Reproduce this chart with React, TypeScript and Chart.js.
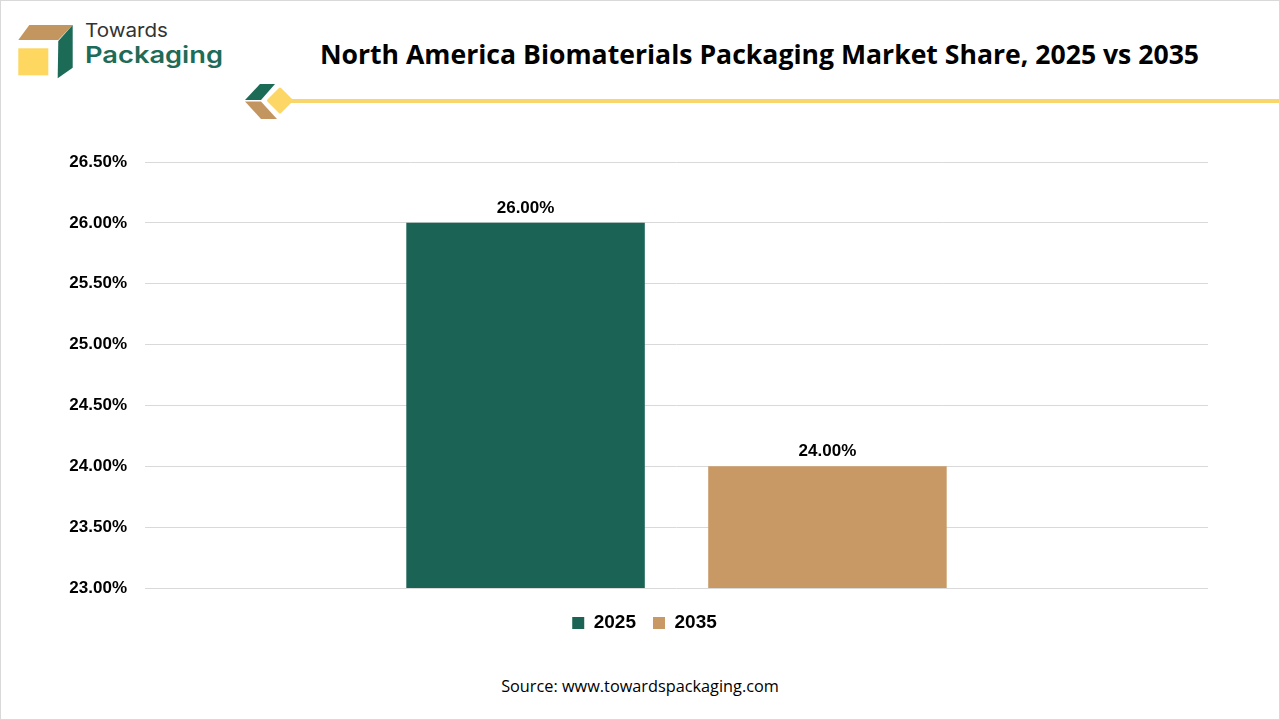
import React, { useEffect, useRef } from "react";
import { Chart, registerables } from "chart.js";

Chart.register(...registerables);

// ---- data ----
const categories: string[] = [""];
const seriesLabels: string[] = ["2025", "2035"];
const values2025: number[] = [26.0];
const values2035: number[] = [24.0];
const seriesColors: string[] = ["#1a6355", "#c99965"];
const yMin = 23.0;
const yMax = 26.5;
const yStep = 0.5;

const titleText = "North America Biomaterials Packaging Market Share, 2025 vs 2035";
const sourceText = "Source: www.towardspackaging.com";

const FONT = "'Liberation Sans', Arial, sans-serif";

const valueLabelPlugin = {
  id: "valueLabels",
  afterDatasetsDraw(chart: any) {
    const ctx = chart.ctx;
    ctx.save();
    ctx.font = `bold 17px ${FONT}`;
    ctx.fillStyle = "#000000";
    ctx.textAlign = "center";
    ctx.textBaseline = "alphabetic";
    chart.data.datasets.forEach((ds: any, i: number) => {
      const meta = chart.getDatasetMeta(i);
      meta.data.forEach((el: any, j: number) => {
        const v = ds.data[j] as number;
        ctx.fillText(v.toFixed(2) + "%", el.x, el.y - 10);
      });
    });
    ctx.restore();
  },
};

// centre the legend row on the page rather than on the padded canvas
const legendShiftPlugin = {
  id: "legendShift",
  afterLayout(chart: any) {
    if (chart.legend) {
      chart.legend.left = 81;
    }
  },
};

function ChartCanvas() {
  const ref = useRef<HTMLCanvasElement | null>(null);
  useEffect(() => {
    if (!ref.current) return;
    const chart = new Chart(ref.current, {
      type: "bar",
      data: {
        labels: categories,
        datasets: [
          {
            label: seriesLabels[0],
            data: values2025,
            backgroundColor: seriesColors[0],
            borderWidth: 0,
            categoryPercentage: 0.568,
            barPercentage: 0.79,
          },
          {
            label: seriesLabels[1],
            data: values2035,
            backgroundColor: seriesColors[1],
            borderWidth: 0,
            categoryPercentage: 0.568,
            barPercentage: 0.79,
          },
        ],
      },
      options: {
        responsive: false,
        animation: false,
        devicePixelRatio: 1,
        layout: { padding: { top: 32, right: 72, left: 0, bottom: 27.5 } },
        scales: {
          x: {
            grid: { display: false, drawTicks: false, tickLength: 0 },
            border: { display: false },
            ticks: { display: true, padding: 0, font: { size: 7, family: FONT } },
          },
          y: {
            min: yMin,
            max: yMax,
            afterFit: (scale: any) => {
              scale.width = 145;
            },
            grid: { color: "#d9d9d9", lineWidth: 1, drawTicks: false },
            border: { display: false },
            ticks: {
              stepSize: yStep,
              padding: 18,
              color: "#000000",
              font: { size: 17, weight: "bold", family: FONT },
              callback: (v: any) => Number(v).toFixed(2) + "%",
            },
          },
        },
        plugins: {
          legend: {
            position: "bottom",
            labels: {
              boxWidth: 12,
              boxHeight: 12,
              padding: 17,
              color: "#000000",
              font: { size: 19, weight: "bold", family: FONT },
            },
          },
          tooltip: { enabled: false },
        },
      },
      plugins: [valueLabelPlugin, legendShiftPlugin],
    } as any);
    return () => chart.destroy();
  }, []);
  return <canvas ref={ref} width={1280} height={540} style={{ display: "block", width: 1280, height: 540 }} />;
}

export default function App() {
  return (
    <div
      style={{
        position: "absolute",
        left: 0,
        top: 0,
        width: 1280,
        height: 720,
        background: "#ffffff",
        overflow: "hidden",
        boxSizing: "border-box",
        border: "1px solid #d9d9d9",
      }}
    >
      <svg
        width={1280}
        height={130}
        style={{ position: "absolute", left: -1, top: -1 }}
      >
        {/* logo */}
        <polygon points="29.3,25 72.7,25 58.3,40 18.3,40" fill="#c4965f" />
        <polygon points="72.7,25 72.7,67.7 57.7,78.3 58.3,41" fill="#1b6b57" />
        <rect x={18.3} y={48.3} width={30} height={27} fill="#fdd760" />
        <text
          x={85}
          y={37.3}
          fontFamily="Inter, 'Noto Sans', sans-serif"
          fontSize={19}
          fill="#333333"
          textLength={83}
          lengthAdjust="spacingAndGlyphs"
        >
          Towards
        </text>
        <text
          x={85}
          y={63.3}
          fontFamily="Inter, 'Noto Sans', sans-serif"
          fontWeight={600}
          fontSize={23}
          fill="#1e6b58"
          textLength={138}
          lengthAdjust="spacingAndGlyphs"
        >
          Packaging
        </text>
        {/* divider ornament */}
        <rect x={288} y={99} width={1000} height={4} fill="#f8d66b" />
        <polygon points="260,84 275,84 261,100 245,100" fill="#1b6b57" />
        <polygon points="245,101.5 261,101.5 277,119 261,119" fill="#c4965f" />
        <polygon
          points="280,89 291.5,100.5 280,112 268.5,100.5"
          fill="#fcd765"
          stroke="#fcd765"
          strokeWidth={3}
          strokeLinejoin="round"
        />
      </svg>
      <div
        style={{
          position: "absolute",
          left: 318,
          top: 39,
          width: 881,
          textAlign: "center",
          whiteSpace: "nowrap",
          fontFamily: "'Open Sans', sans-serif",
          fontWeight: 700,
          fontSize: 26.6,
          lineHeight: "28px",
          color: "#000000",
        }}
      >
        {titleText}
      </div>
      <div style={{ position: "absolute", left: -1, top: 129 }}>
        <ChartCanvas />
      </div>
      <div
        style={{
          position: "absolute",
          left: 0,
          top: 675,
          width: 1278,
          textAlign: "center",
          whiteSpace: "nowrap",
          fontFamily: "'Open Sans', sans-serif",
          fontSize: 16.3,
          lineHeight: "20px",
          color: "#000000",
        }}
      >
        {sourceText}
      </div>
    </div>
  );
}
